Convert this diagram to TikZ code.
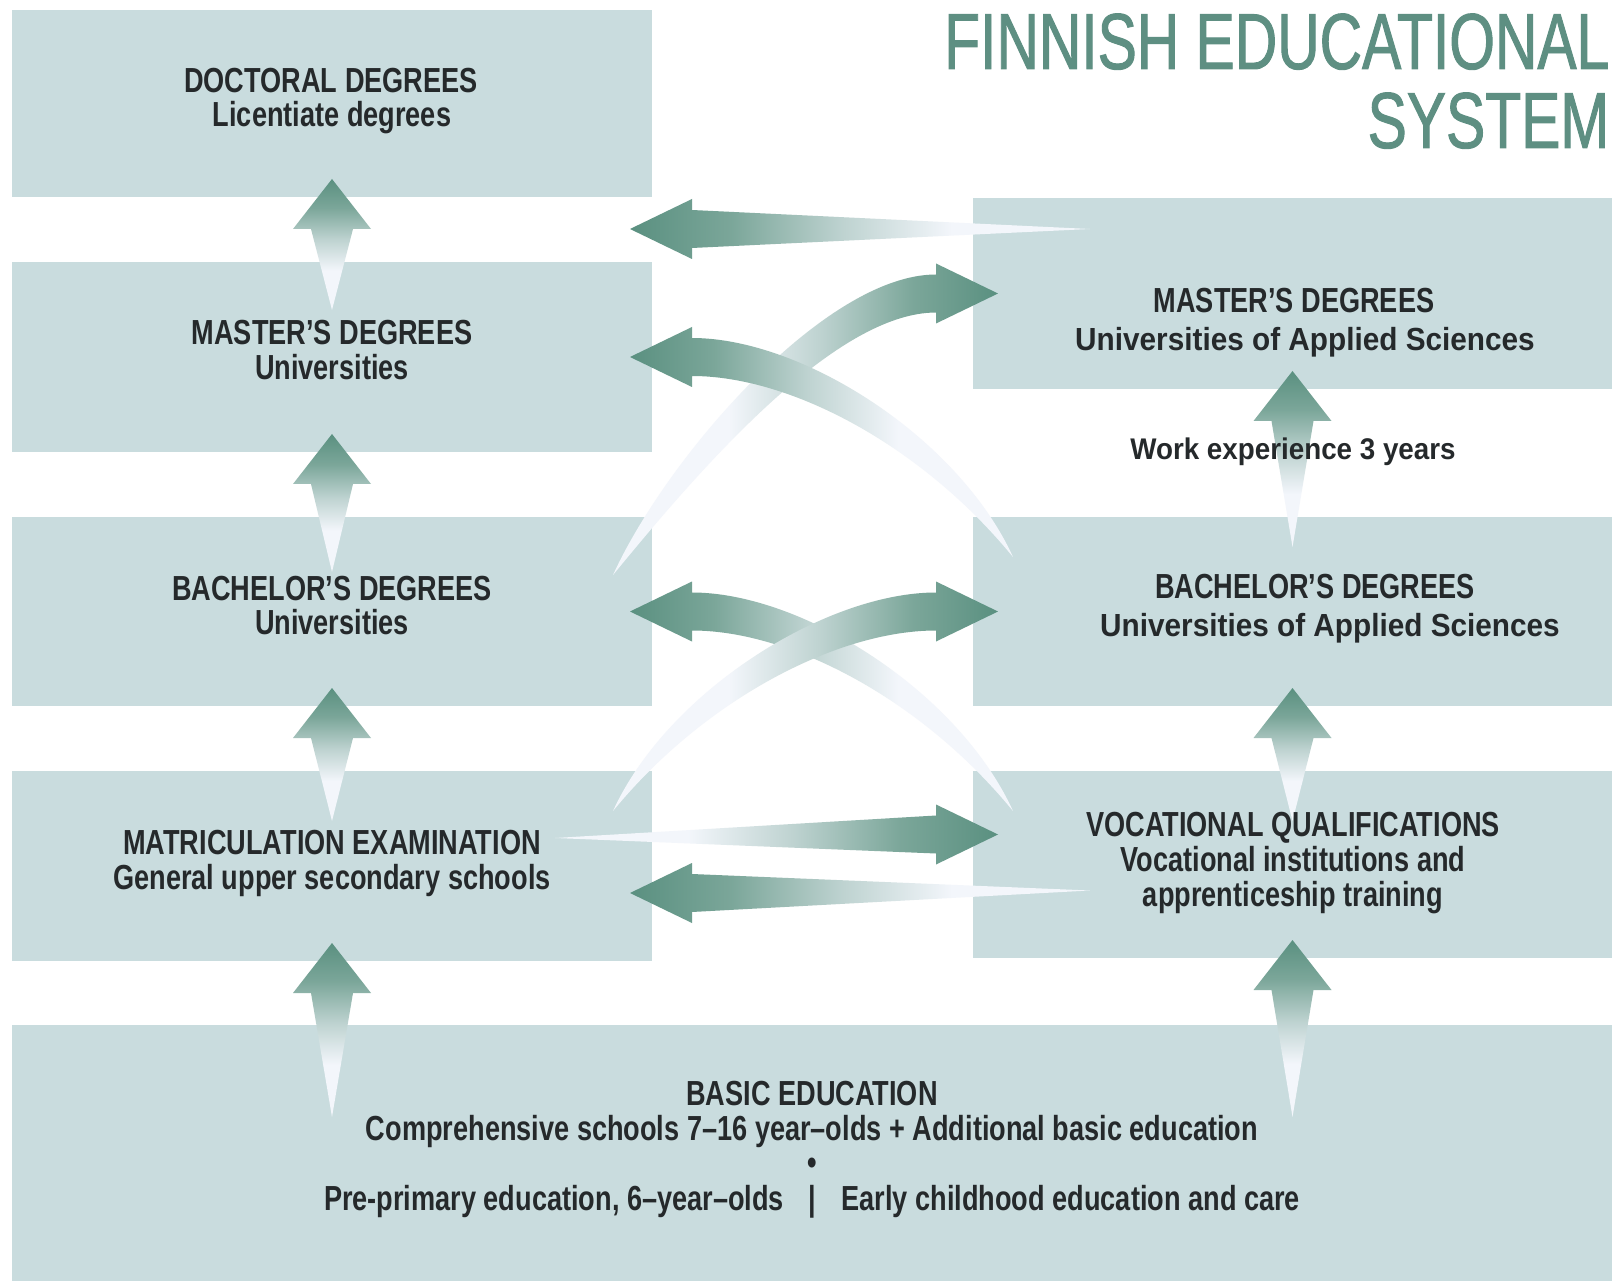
\documentclass[tikz,border=0pt]{standalone}
\usepackage{fontspec}
\usetikzlibrary{calc}
\setmainfont{Liberation Sans}
\newfontfamily\condfont[FakeStretch=0.78]{Liberation Sans}
\newfontfamily\widefont[FakeStretch=0.93]{Liberation Sans}
\newfontfamily\titlefont[FakeStretch=0.74, FakeBold=1.2]{Liberation Sans}

\definecolor{boxblue}{HTML}{C9DCDE}
\definecolor{arrowteal}{HTML}{5A9080}
\definecolor{titleteal}{HTML}{5E8F82}
\definecolor{inkgray}{HTML}{25292B}
\definecolor{fadewhite}{HTML}{F3F6FB}

% teal at the top, white at the bottom (the path box maps to 25bp..75bp)
\pgfdeclareverticalshading{arrowfade}{100bp}{color(0bp)=(fadewhite); color(40bp)=(fadewhite);
  color(52bp)=(arrowteal!35!fadewhite); color(64bp)=(arrowteal!80!white);
  color(75bp)=(arrowteal); color(100bp)=(arrowteal)}

\tikzset{
  box/.style={fill=boxblue, inner sep=0pt, outer sep=0pt},
  head/.style={font=\condfont\bfseries\fontsize{9.9}{10}\selectfont, text=inkgray, anchor=base, inner sep=0pt},
  widesub/.style={font=\widefont\bfseries\fontsize{9.1}{10}\selectfont, text=inkgray, anchor=base, inner sep=0pt},
  titletext/.style={font=\titlefont\fontsize{22.6}{24}\selectfont, text=titleteal, anchor=base east, inner sep=0pt},
  fadeup/.style={shading=arrowfade, shading angle=0},
  fadeleft/.style={shading=arrowfade, shading angle=90},
  faderight/.style={shading=arrowfade, shading angle=-90}
}

\begin{document}
\begin{tikzpicture}[x=0.1mm, y=-0.1mm]
                \useasboundingbox (0,0) rectangle (1612,1281);
                \fill[white] (0,0) rectangle (1612,1281);
                % boxes
                \node[box, minimum width=64mm, minimum height=18.7mm] (docL) at (332,103.5) {};
                \node[box, minimum width=64mm, minimum height=19mm] (mastL) at (332,357) {};
                \node[box, minimum width=64mm, minimum height=18.9mm] (bachL) at (332,611.5) {};
                \node[box, minimum width=64mm, minimum height=19mm] (matr) at (332,866) {};
                \node[box, minimum width=63.9mm, minimum height=19.1mm] (mastR) at (1292.5,293.5) {};
                \node[box, minimum width=63.9mm, minimum height=18.9mm] (bachR) at (1292.5,611.5) {};
                \node[box, minimum width=63.9mm, minimum height=18.7mm] (voc) at (1292.5,864.5) {};
                \node[box, minimum width=160mm, minimum height=25.6mm] (basic) at (812,1153) {};
                % upward arrows
                \foreach \a/\b/\t in {docL/mastL/48, mastL/bachL/55, bachL/matr/50, matr/basic/92,
                                      mastR/bachR/30, bachR/voc/50, voc/basic/92}
                    \shade[fadeup] ($(\a.south)+(0,-18)$) -- ++(39,50) -- ++(-18,0)
                        -- ($(\a.south |- \b.north)+(0,\t)$) -- ($(\a.south)+(-21,32)$) -- ++(-18,0) -- cycle;
                % straight arrows
                \coordinate (drTip) at ($(docL.south east)+(-22,32)$);
                \coordinate (mrEnd) at ($(mastR.north west)+(117,31)$);
                \shade[fadeleft] (drTip) -- ++(62,-30) -- ++(0,11) -- (mrEnd) -- ($(drTip)+(62,19)$) -- ++(0,11) -- cycle;
                \coordinate (vqTip) at ($(voc.west)+(25,-30)$);
                \coordinate (meEnd) at ($(matr.east)+(-97,-28)$);
                \shade[faderight] (vqTip) -- ++(-62,-30) -- ++(0,11) -- (meEnd) -- ($(vqTip)+(-62,19)$) -- ++(0,11) -- cycle;
                \coordinate (meTip) at ($(matr.east)+(-22,27)$);
                \coordinate (vqEnd) at ($(voc.west)+(117,26)$);
                \shade[fadeleft] (meTip) -- ++(62,-30) -- ++(0,11) -- (vqEnd) -- ($(meTip)+(62,19)$) -- ++(0,11) -- cycle;
                % curved arrows
                \coordinate (mrTip) at ($(mastR.west)+(25,0)$);
                \coordinate (blEnd) at ($(bachL.north east)+(-39,58)$);
                \shade[faderight] (mrTip) -- ++(-62,-30) -- ++(0,11) .. controls +(-110,0) and +(55,-120) .. (blEnd)
                    .. controls +(90,-110) and +(-100,0) .. ($(mrTip)+(-62,19)$) -- ++(0,11) -- cycle;
                \coordinate (mlTip) at ($(mastL.east)+(-22,0)$);
                \coordinate (brEnd) at ($(bachR.north west)+(40,40)$);
                \shade[fadeleft] (mlTip) -- ++(62,-30) -- ++(0,11) .. controls +(110,0) and +(-55,-120) .. (brEnd)
                    .. controls +(-90,-110) and +(100,0) .. ($(mlTip)+(62,19)$) -- ++(0,11) -- cycle;
                \coordinate (blTip) at ($(bachL.east)+(-22,0)$);
                \coordinate (voEnd) at ($(voc.north west)+(40,40)$);
                \shade[fadeleft] (blTip) -- ++(62,-30) -- ++(0,11) .. controls +(110,0) and +(-55,-120) .. (voEnd)
                    .. controls +(-90,-110) and +(100,0) .. ($(blTip)+(62,19)$) -- ++(0,11) -- cycle;
                \coordinate (brTip) at ($(bachR.west)+(25,0)$);
                \coordinate (maEnd) at ($(matr.north east)+(-39,40)$);
                \shade[faderight] (brTip) -- ++(-62,-30) -- ++(0,11) .. controls +(-110,0) and +(55,-120) .. (maEnd)
                    .. controls +(90,-110) and +(-100,0) .. ($(brTip)+(-62,19)$) -- ++(0,11) -- cycle;
                % title
                \node[titletext] (titleA) at (1610,69) {FINNISH EDUCATIONAL};
                \node[titletext] (titleB) at (1610,148) {SYSTEM};
                % labels
                \node[head] (docH) at (331,93) {DOCTORAL DEGREES};
                \node[head] (docS) at (332,127) {Licentiate degrees};
                \node[head] (mastLH) at (332,345) {MASTER’S DEGREES};
                \node[head] (mastLS) at (332,380) {Universities};
                \node[head] (bachLH) at (332,600) {BACHELOR’S DEGREES};
                \node[head] (bachLS) at (332,635) {Universities};
                \node[head] (matrH) at (332,854) {MATRICULATION EXAMINATION};
                \node[head] (matrS) at (332,889) {General upper secondary schools};
                \node[head] (mastRH) at (1294,313) {MASTER’S DEGREES};
                \node[widesub] (mastRS) at (1305,351) {Universities of Applied Sciences};
                \node[widesub, font=\widefont\bfseries\fontsize{8.5}{10}\selectfont] (work) at (1293,460) {Work experience 3 years};
                \node[head] (bachRH) at (1315,599) {BACHELOR’S DEGREES};
                \node[widesub] (bachRS) at (1330,636) {Universities of Applied Sciences};
                \node[head] (vocH) at (1293,836) {VOCATIONAL QUALIFICATIONS};
                \node[head] (vocS1) at (1293,871) {Vocational institutions and};
                \node[head] (vocS2) at (1293,906) {apprenticeship training};
                \node[head] (basicH) at (812,1105) {BASIC EDUCATION};
                \node[head] (basicS1) at (812,1140) {Comprehensive schools 7–16 year–olds + Additional basic education};
                \node[head] (basicDot) at (812,1174) {•};
                \node[head] (basicS2) at (812,1210) {Pre-primary education, 6–year–olds\enspace\ |\ \enspace Early childhood education and care};
\end{tikzpicture}
\end{document}
